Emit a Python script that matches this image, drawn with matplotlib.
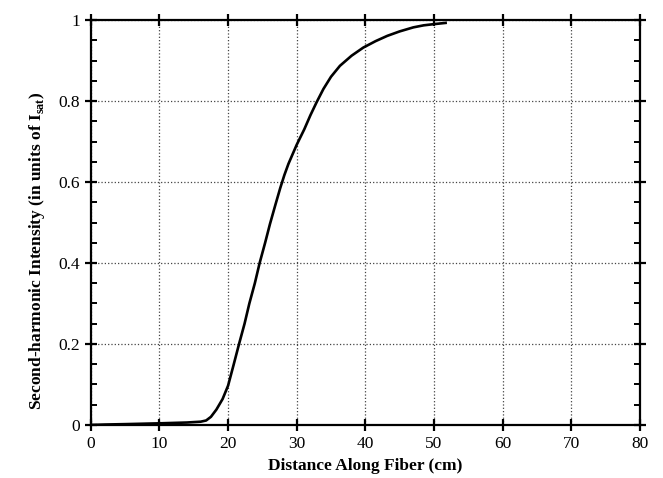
import numpy as np
import matplotlib.pyplot as plt
from matplotlib.ticker import MultipleLocator

plt.rcParams['font.family'] = 'Liberation Serif'
plt.rcParams['mathtext.fontset'] = 'custom'
plt.rcParams['mathtext.rm'] = 'Liberation Serif:bold'
plt.rcParams['mathtext.bf'] = 'Liberation Serif:bold'

# values
dist = [0, 2, 5, 10, 14, 16, 16.8, 17.5, 18.3, 19.2, 20, 20.8, 21.6, 22.4,
        23.1, 23.9, 24.6, 25.4, 26.1, 26.9, 27.6, 28.2, 28.8, 30, 31.1, 32.0,
        32.9, 33.9, 35.0, 36.3, 38.0, 39.7, 41.5, 43.2, 45.0, 47.0, 48.5, 50,
        51.7]
intensity = [0, 0.001, 0.002, 0.004, 0.006, 0.008, 0.011, 0.02, 0.038,
             0.064, 0.097, 0.148, 0.2, 0.25, 0.3, 0.35, 0.4, 0.45, 0.496,
             0.544, 0.585, 0.617, 0.645, 0.692, 0.73, 0.765, 0.797, 0.83,
             0.86, 0.887, 0.912, 0.932, 0.948, 0.961, 0.972, 0.982, 0.987,
             0.99, 0.993]
xticks = [0, 10, 20, 30, 40, 50, 60, 70, 80]
yticks = [0, 0.2, 0.4, 0.6, 0.8, 1]
ytick_labels = ['0', '0.2', '0.4', '0.6', '0.8', '1']

fig = plt.figure(figsize=(6.63, 4.78), dpi=100)
ax = fig.add_axes([0.137, 0.111, 0.828, 0.847])

ax.plot(dist, intensity, color='black', lw=1.9, solid_joinstyle='round')

ax.set_xlim(0, 80)
ax.set_ylim(0, 1)
ax.set_xticks(xticks)
ax.set_yticks(yticks)
ax.set_yticklabels(ytick_labels)
ax.yaxis.set_minor_locator(MultipleLocator(0.05))

ax.grid(True, which='major', ls=':', color='#444444', lw=0.9)
for s in ax.spines.values():
    s.set_linewidth(1.6)

ax.tick_params(which='major', direction='inout', length=9, width=1.6,
               top=True, right=True, labelsize=12.5)
ax.tick_params(which='minor', direction='in', length=4, width=1.4,
               left=True, right=True)

ax.set_xlabel('Distance Along Fiber (cm)', fontsize=12.5, fontweight='bold')
ax.set_ylabel(r'Second-harmonic Intensity (in units of I$_{\mathbf{sat}}$)',
              fontsize=12.5, fontweight='bold')
ax.yaxis.set_label_coords(-0.08, 0.43)

fig.savefig('out.png', dpi=100)
